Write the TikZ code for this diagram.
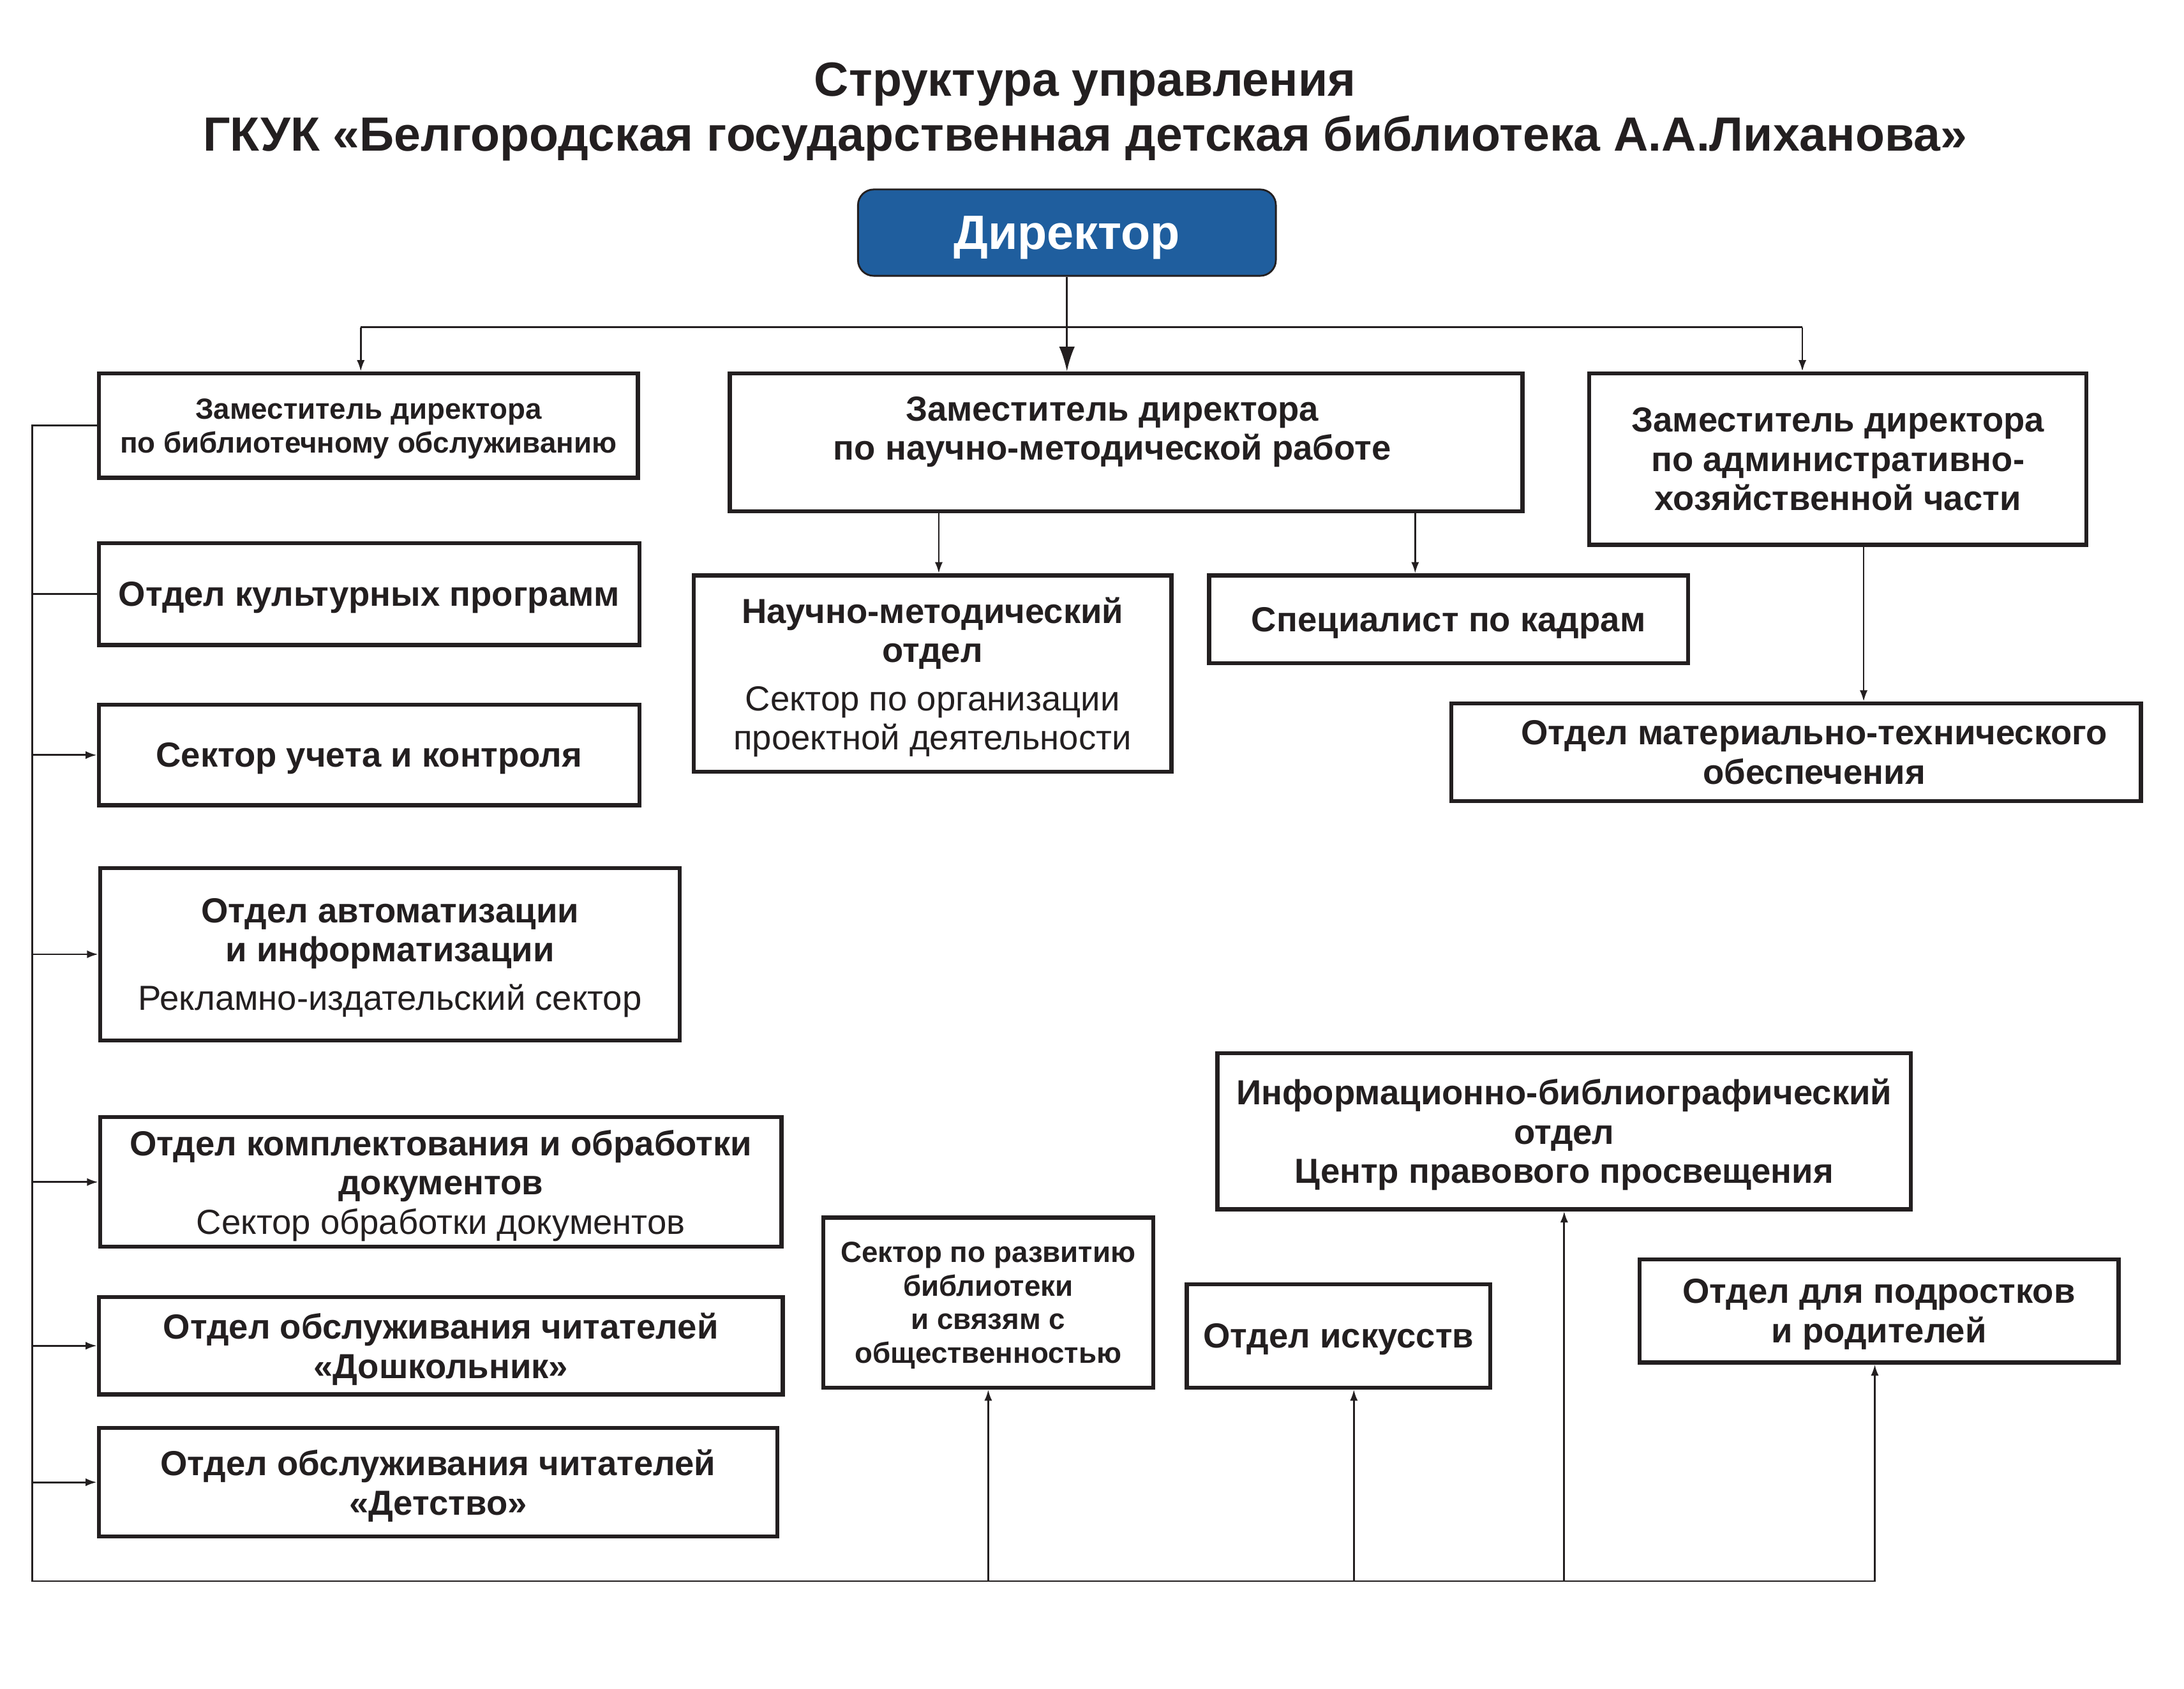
\documentclass[tikz,border=0pt]{standalone}
\usepackage{fontspec}
\setmainfont{Liberation Sans}
\usepackage{xcolor}
\usetikzlibrary{arrows.meta, positioning, calc}
\definecolor{ink}{RGB}{35,31,32}
\definecolor{dirblue}{RGB}{31,94,158}

\begin{document}
\begin{tikzpicture}[
        x=0.021824cm, y=-0.021824cm,
        titletext/.style={align=center, text=ink, font=\bfseries\fontsize{21.4}{24.5}\selectfont},
        chief/.style={rectangle, rounded corners=7pt, draw=ink, line width=0.8pt, fill=dirblue, text=white, text depth=0pt, font=\bfseries\fontsize{21.5}{26}\selectfont},
        boxtext/.style={align=center, text=ink, text depth=0pt, font=\bfseries\fontsize{15.5}{17.5}\selectfont},
        box/.style={rectangle, draw=ink, line width=1.8pt, inner sep=2pt, boxtext},
        small/.style={font=\bfseries\fontsize{13}{15}\selectfont},
        size/.style 2 args={minimum width=#1*0.021824cm, minimum height=#2*0.021824cm},
        line/.style={draw=ink, line width=0.8pt},
        arrow/.style={line, -{Latex[length=5pt, width=3.5pt]}},
        bigarrow/.style={line, -{Latex[length=11pt, width=7pt]}}
    ]
    \useasboundingbox (0,0) rectangle (1568,1212.4);

    % --- NODES ---
    \node (title) [titletext] at (779,80) {Структура управления\\ГКУК «Белгородская государственная детская библиотека А.А.Лиханова»};
    \node (dir) [chief, size={300}{62}] at (766,167) {Директор};

    % deputies
    \node (zam_lib) [box, small, size={387}{75}] at (264.5,305.5) {Заместитель директора\\по библиотечному обслуживанию};
    \node (zam_nauk) [box, size={569}{99}, label={[boxtext, shift={(-10,-10)}]center:{Заместитель директора\\по научно-методической работе}}] at (808.5,317.5) {};
    \node (zam_adm) [box, size={357}{123}] at (1319.5,329.5) {Заместитель директора\\по административно-\\хозяйственной части};

    % left column
    \node (kult) [box, size={388}{73}] at (265,426.5) {Отдел культурных программ};
    \node (uchet) [box, size={388}{72}] at (265,542) {Сектор учета и контроля};
    \node (avtom) [box, size={416}{124}] at (280,685) {Отдел автоматизации\\и информатизации\\[4pt]{\mdseries Рекламно-издательский сектор}};
    \node (kompl) [box, size={489}{93}] at (316.5,848.5) {Отдел комплектования и обработки\\документов\\{\mdseries Сектор обработки документов}};
    \node (dosh) [box, size={491}{70}] at (316.5,966) {Отдел обслуживания читателей\\«Дошкольник»};
    \node (det) [box, size={487}{78}] at (314.5,1064) {Отдел обслуживания читателей\\«Детство»};

    % under deputies
    \node (nauch) [box, size={343}{141}] at (669.5,483.5) {Научно-методический\\отдел\\[4pt]{\mdseries Сектор по организации}\\{\mdseries проектной деятельности}};
    \node (kadry) [box, size={344}{63}] at (1040,444.5) {Специалист по кадрам};
    \node (mto) [box, size={495}{70}, label={[boxtext, shift={(13,0)}]center:{Отдел материально-технического\\обеспечения}}] at (1289.5,540) {};

    % bottom row
    \node (razv) [box, small, size={237}{122}] at (709.5,935) {Сектор по развитию\\библиотеки\\и связям с\\общественностью};
    \node (isk) [box, size={218}{74}] at (961,959) {Отдел искусств};
    \node (info) [box, size={498}{112}] at (1123,812) {Информационно-библиографический\\отдел\\Центр правового просвещения};
    \node (podr) [box, size={344}{74}] at (1349,941) {Отдел для подростков\\и родителей};

    % --- ARROWS ---
    \coordinate (top_l) at (259,235);
    \coordinate (top_r) at (1294,235);
    \draw [line] (top_l) -- (top_r);
    \draw [arrow] (top_l) -- (top_l |- zam_lib.north);
    \draw [arrow] (top_r) -- (top_r |- zam_adm.north);
    \draw [bigarrow] (dir.south) -- (dir.south |- zam_nauk.north);

    % from deputies down
    \coordinate (nauch_in) at (674,0);
    \coordinate (kadry_in) at (1016,0);
    \coordinate (mto_in) at (1338,0);
    \draw [arrow] (nauch_in |- zam_nauk.south) -- (nauch_in |- nauch.north);
    \draw [arrow] (kadry_in |- zam_nauk.south) -- (kadry_in |- kadry.north);
    \draw [arrow] (mto_in |- zam_adm.south) -- (mto_in |- mto.north);

    % common bus
    \coordinate (bus_b) at (23,1135);
    \coordinate (podr_in) at (1346,0);
    \draw [arrow] (zam_lib.west) -| (bus_b) -| (podr_in |- podr.south);
    \draw [line] (bus_b |- kult.west) -- (kult.west);
    \foreach \n in {uchet, avtom, kompl, dosh, det}
        \draw [arrow] (bus_b |- \n.west) -- (\n.west);
    \coordinate (isk_in) at (972,0);
    \draw [arrow] (bus_b -| razv.south) -- (razv.south);
    \draw [arrow] (bus_b -| isk_in) -- (isk_in |- isk.south);
    \draw [arrow] (bus_b -| info.south) -- (info.south);

\end{tikzpicture}
\end{document}
